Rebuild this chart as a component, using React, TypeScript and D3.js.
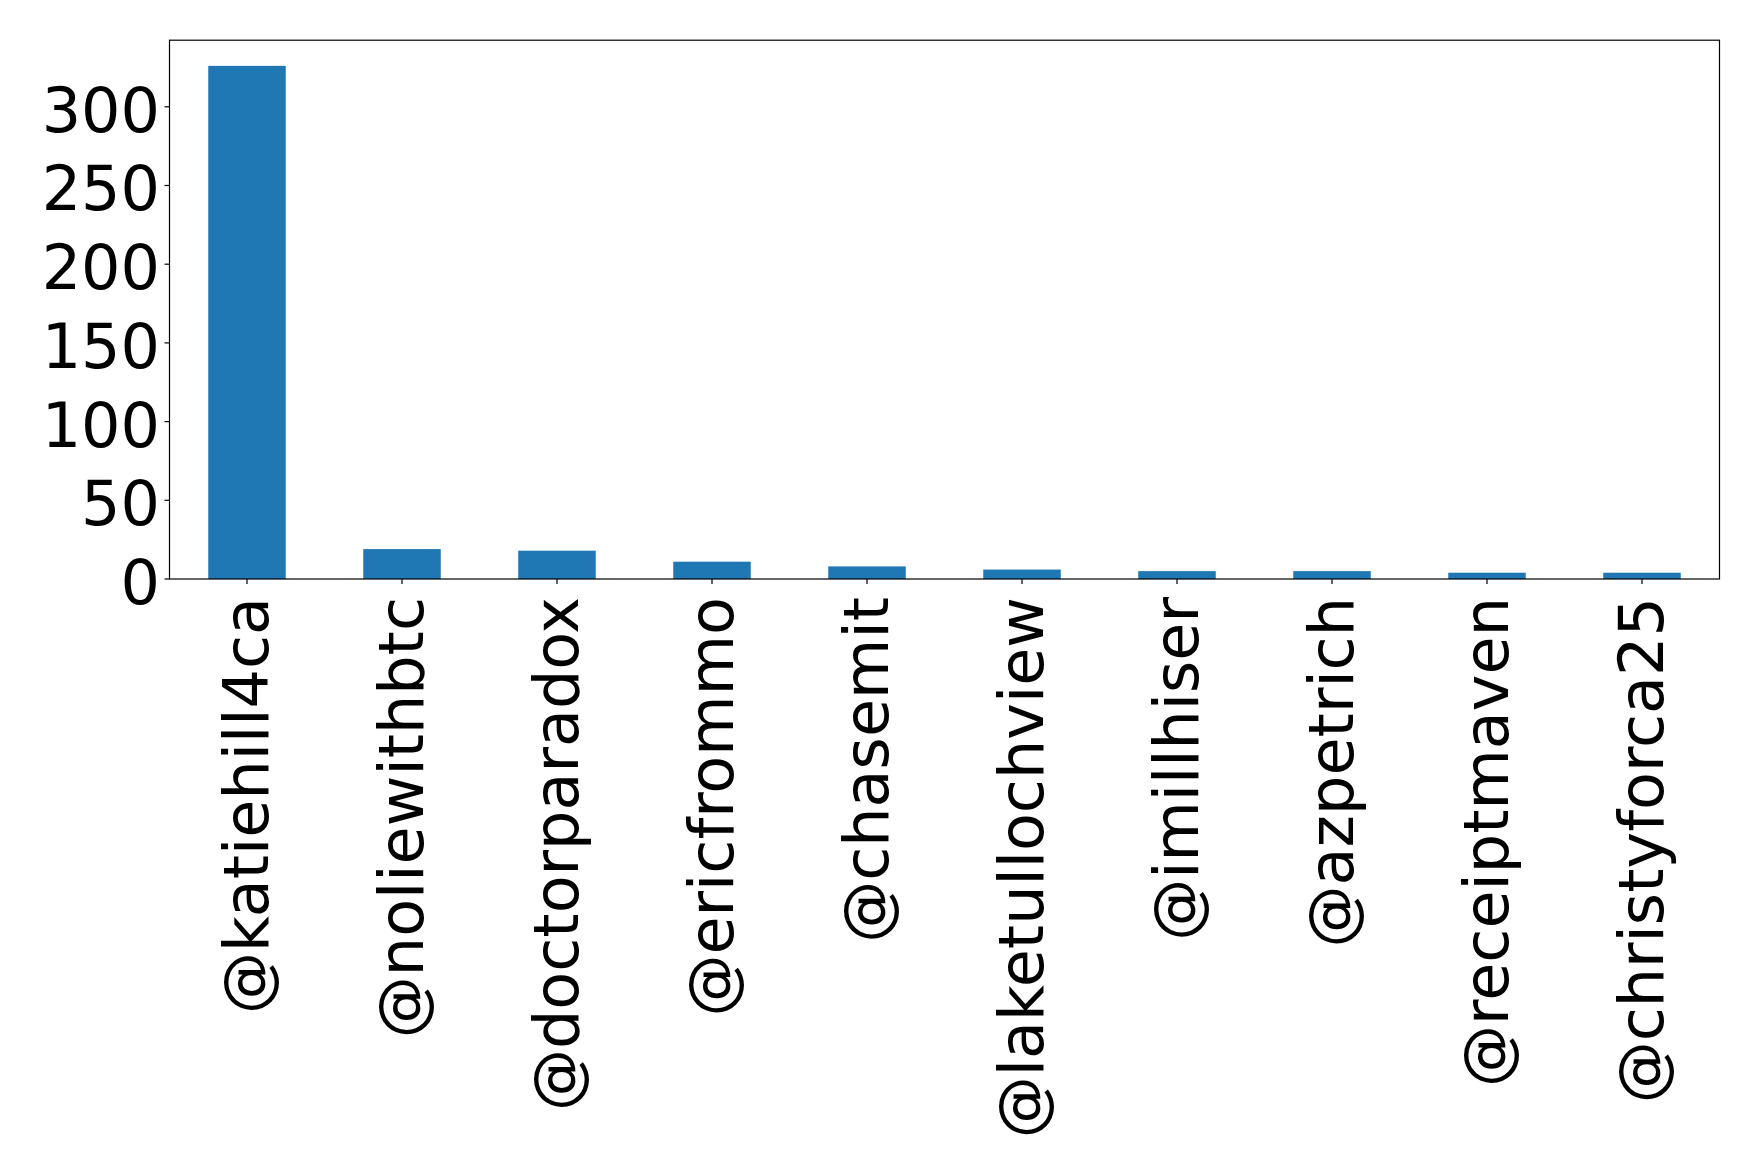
import React from "react";
import * as d3 from "d3";

const categories: string[] = [
  "@katiehill4ca",
  "@noliewithbtc",
  "@doctorparadox",
  "@ericfrommo",
  "@chasemit",
  "@laketullochview",
  "@imillhiser",
  "@azpetrich",
  "@receiptmaven",
  "@christyforca25",
];
const values: number[] = [326, 19, 18, 11, 8, 6, 5, 5, 4, 4];
const yTicks: number[] = [0, 50, 100, 150, 200, 250, 300];

const W = 1759;
const H = 1174;
const left = 169.5;
const right = 1719.5;
const top = 40.2;
const bottom = 579;
const FONT = "DejaVu Sans, sans-serif";
const FS = 62;

export default function App() {
  const x = d3
    .scaleLinear()
    .domain([-0.5, categories.length - 0.5])
    .range([left, right]);
  const yMax = d3.max(values)! * 1.05;
  const y = d3.scaleLinear().domain([0, yMax]).range([bottom, top]);
  const bw = x(0.25) - x(-0.25);

  return (
    <svg
      width={W}
      height={H}
      style={{ position: "absolute", left: 0, top: 0, background: "#fff" }}
      fontFamily={FONT}
    >
      <rect x={0} y={0} width={W} height={H} fill="#fff" />
      {values.map((v, i) => (
        <rect
          key={categories[i]}
          x={x(i) - bw / 2}
          y={y(v)}
          width={bw}
          height={y(0) - y(v)}
          fill="#1f77b4"
        />
      ))}
      <rect
        x={left}
        y={top}
        width={right - left}
        height={bottom - top}
        fill="none"
        stroke="#000"
        strokeWidth={1.2}
      />
      {yTicks.map((t) => (
        <g key={t}>
          <line x1={left - 5} x2={left} y1={y(t)} y2={y(t)} stroke="#000" strokeWidth={1.2} />
          <text x={left - 9.5} y={y(t) + 25} textAnchor="end" fontSize={FS} fill="#000">
            {t}
          </text>
        </g>
      ))}
      {categories.map((c, i) => (
        <g key={c}>
          <line x1={x(i)} x2={x(i)} y1={bottom} y2={bottom + 5} stroke="#000" strokeWidth={1.2} />
          <text
            transform={`translate(${x(i) + 21},${bottom + 18}) rotate(-90)`}
            textAnchor="end"
            fontSize={FS}
            fill="#000"
          >
            {c}
          </text>
        </g>
      ))}
    </svg>
  );
}
